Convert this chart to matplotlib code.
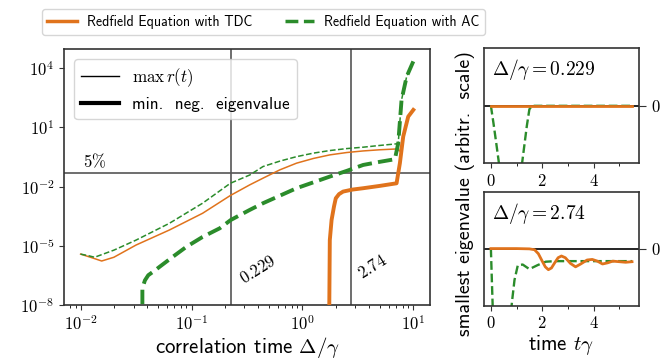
import numpy as np
import matplotlib
matplotlib.use("Agg")
import matplotlib.pyplot as plt
from matplotlib.lines import Line2D
from matplotlib.ticker import LogLocator, NullLocator, MultipleLocator, FixedLocator, FuncFormatter

plt.rcParams['font.family'] = ['cmss10', 'DejaVu Sans']
plt.rcParams['mathtext.fontset'] = 'cm'
plt.rcParams['axes.formatter.use_mathtext'] = True

ORANGE = '#e0731c'
GREEN = '#2b8c2b'

# ---- main panel data (log10 values) ----
# max r(t), TDC (thin orange)
tdc_r_logx = [-2.0, -1.90, -1.81, -1.70, -1.50, -1.20, -0.90, -0.65, -0.475, -0.355, -0.204, -0.053, 0.10, 0.247, 0.40, 0.548, 0.70, 0.849, 0.879, 0.909, 0.954, 1.0]
tdc_r_logy = [-5.42, -5.60, -5.77, -5.58, -4.96, -4.20, -3.35, -2.45, -1.91, -1.57, -1.15, -0.81, -0.57, -0.39, -0.27, -0.19, -0.13, -0.09, -0.20, 0.54, 1.55, 1.89]
# max r(t), AC (thin green dashed)
ac_r_logx = [-2.0, -1.93, -1.874, -1.70, -1.50, -1.20, -0.90, -0.65, -0.475, -0.355, -0.20, -0.053, 0.10, 0.247, 0.40, 0.548, 0.70, 0.849, 0.864, 0.894, 0.94, 1.0]
ac_r_logy = [-5.42, -5.50, -5.58, -5.22, -4.71, -3.86, -2.84, -1.83, -1.41, -0.98, -0.70, -0.48, -0.30, -0.17, -0.07, 0.0, 0.09, 0.17, 0.20, 2.40, 3.58, 4.35]
# min. neg. eigenvalue, TDC (thick orange)
tdc_e_logx = [0.241, 0.247, 0.263, 0.285, 0.301, 0.330, 0.367, 0.45, 0.548, 0.70, 0.849, 0.879, 0.909, 0.954, 1.0]
tdc_e_logy = [-9.0, -4.71, -3.69, -3.00, -2.59, -2.38, -2.25, -2.15, -2.08, -1.96, -1.83, -0.81, 0.54, 1.55, 1.89]
# min. neg. eigenvalue, AC (thick green dashed)
ac_e_logx = [-1.443, -1.443, -1.42, -1.39, -1.33, -1.287, -1.167, -1.046, -0.90, -0.745, -0.646, -0.475, -0.355, -0.20, -0.053, 0.10, 0.247, 0.40, 0.548, 0.70, 0.834, 0.864, 0.894, 0.94, 1.0]
ac_e_logy = [-9.0, -7.15, -6.75, -6.49, -6.25, -6.06, -5.55, -5.05, -4.55, -4.11, -3.69, -3.18, -2.84, -2.45, -2.08, -1.78, -1.49, -1.20, -0.90, -0.74, -0.61, 0.20, 2.40, 3.58, 4.35]

vlines = [0.229, 2.74]
vline_labels = ['$0.229$', '$2.74$']
threshold = 0.05

# ---- right panels (arbitrary scale) ----
t_top_ac = [0.0, 0.1, 0.2, 0.3, 0.4, 0.75, 1.1, 1.2, 1.3, 1.4, 1.5, 1.6, 5.5]
y_top_ac = [0.0, -0.30, -0.62, -0.95, -1.3, -3.0, -1.4, -1.05, -0.70, -0.35, -0.06, 0.0, 0.0]
t_top_tdc = [0.0, 1.0, 2.0, 3.0, 4.0, 5.5]
y_top_tdc = [0.0, 0.0, 0.0, 0.0, 0.0, 0.0]

t_bot_ac = [0.0, 0.03, 0.09, 0.2, 0.5, 0.75, 0.82, 0.92, 1.05, 1.24, 1.5, 1.82, 2.14, 2.5, 3.0, 4.0, 5.0, 5.5]
y_bot_ac = [0.0, -0.45, -1.3, -2.0, -2.0, -1.3, -0.94, -0.55, -0.29, -0.28, -0.36, -0.29, -0.23, -0.22, -0.22, -0.22, -0.22, -0.22]
t_bot_tdc = [0.0, 1.0, 1.5, 1.7, 1.85, 2.0, 2.12, 2.24, 2.36, 2.5, 2.62, 2.75, 2.9, 3.1, 3.3, 3.5, 3.75, 3.95, 4.15, 4.35, 4.55, 4.75, 5.0, 5.25, 5.5]
y_bot_tdc = [0.0, 0.0, -0.005, -0.02, -0.09, -0.22, -0.32, -0.37, -0.34, -0.24, -0.16, -0.13, -0.16, -0.26, -0.32, -0.27, -0.20, -0.19, -0.22, -0.27, -0.25, -0.22, -0.23, -0.24, -0.23]

fig = plt.figure(figsize=(6.72, 3.6), dpi=100)
ax = fig.add_axes([0.0952, 0.1528, 0.5446, 0.7112])
ax_t = fig.add_axes([0.720, 0.546, 0.231, 0.320])
ax_b = fig.add_axes([0.720, 0.151, 0.231, 0.317])

log_fmt = FuncFormatter(lambda v, p: r'$10^{%d}$' % int(round(np.log10(v))))
lin_fmt = FuncFormatter(lambda v, p: r'$%d$' % int(round(v)))

spine_c = '#333333'
for a in (ax, ax_t, ax_b):
    for s in a.spines.values():
        s.set_color(spine_c)
        s.set_linewidth(1.2)
    a.tick_params(colors=spine_c, labelcolor='black', labelsize=12)

# main panel
ax.set_xscale('log')
ax.set_yscale('log')
ax.plot(10**np.array(tdc_r_logx), 10**np.array(tdc_r_logy), color=ORANGE, lw=1.1, zorder=3)
ax.plot(10**np.array(ac_r_logx), 10**np.array(ac_r_logy), color=GREEN, lw=1.1, ls='--', zorder=3)
ax.plot(10**np.array(tdc_e_logx), 10**np.array(tdc_e_logy), color=ORANGE, lw=2.8, zorder=4)
ax.plot(10**np.array(ac_e_logx), 10**np.array(ac_e_logy), color=GREEN, lw=2.8, ls='--', zorder=4)
for v in vlines:
    ax.axvline(v, color='#555555', lw=1.2, zorder=1)
ax.axhline(threshold, color='#555555', lw=1.2, zorder=1)
ax.set_xlim(10**-2.15, 10**1.15)
ax.set_ylim(1e-8, 10**4.98)
ax.yaxis.set_major_locator(FixedLocator([1e-8, 1e-5, 1e-2, 1e1, 1e4]))
ax.yaxis.set_minor_locator(NullLocator())
ax.xaxis.set_major_locator(LogLocator(base=10))
ax.xaxis.set_minor_locator(LogLocator(base=10, subs=np.arange(2, 10)))
ax.xaxis.set_major_formatter(log_fmt)
ax.yaxis.set_major_formatter(log_fmt)
xl = ax.set_xlabel(r'correlation time $\Delta/\gamma$', fontsize=14, labelpad=1)

ax.text(0.0105, threshold * 1.35, r'$5\%$', fontsize=12, ha='left', va='bottom')
ax.text(0.395, 10**-6.2, vline_labels[0], fontsize=12, rotation=32, ha='center', va='center')
ax.text(4.23, 10**-6.05, vline_labels[1], fontsize=12, rotation=32, ha='center', va='center')

h1 = Line2D([], [], color='black', lw=1.0)
h2 = Line2D([], [], color='black', lw=3.0)


def inner_legend(fs):
    return ax.legend([h1, h2], [r'$\max\,r(t)$', 'min.  neg.  eigenvalue'], loc='upper left',
                     fontsize=fs, borderaxespad=0.6, handlelength=2.2)


# right panels
for a, tac, yac, ttd, ytd, lab in ((ax_t, t_top_ac, y_top_ac, t_top_tdc, y_top_tdc, r'$\Delta/\gamma = 0.229$'),
                                   (ax_b, t_bot_ac, y_bot_ac, t_bot_tdc, y_bot_tdc, r'$\Delta/\gamma = 2.74$')):
    a.axhline(0, color='black', lw=1.2, zorder=1)
    a.plot(tac, yac, color=GREEN, lw=1.7, ls='--', zorder=2)
    a.plot(ttd, ytd, color=ORANGE, lw=2.0, zorder=3)
    a.set_ylim(-1, 1)
    a.set_xlim(-0.275, 5.775)
    a.yaxis.tick_right()
    a.set_yticks([0])
    a.xaxis.set_major_locator(MultipleLocator(2))
    a.xaxis.set_minor_locator(MultipleLocator(1))
    a.xaxis.set_major_formatter(lin_fmt)
    a.yaxis.set_major_formatter(lin_fmt)
    a.tick_params(axis='y', length=5)
    a.text(0.05, 0.92, lab, transform=a.transAxes, fontsize=14, ha='left', va='top')
ax_b.set_xlabel(r'time $t\gamma$', fontsize=14, labelpad=1)

yl = fig.text(0.692, 0.461, 'smallest eigenvalue (arbitr.  scale)', rotation=90, fontsize=14,
              ha='center', va='center')

lh1 = Line2D([], [], color=ORANGE, lw=2.5)
lh2 = Line2D([], [], color=GREEN, lw=2.5, ls='--')


def top_legend(fs, cs):
    return fig.legend([lh1, lh2], ['Redfield Equation with TDC', 'Redfield Equation with AC'], loc='center',
                      bbox_to_anchor=(0.392, 0.939), ncol=2, fontsize=fs, columnspacing=cs,
                      handlelength=2.15, handletextpad=0.7, borderpad=0.4)


# --- fit text sizes to the pixel widths measured on the reference ---
leg_in = inner_legend(12)
leg_top = top_legend(12, 2.0)
fig.canvas.draw()
r = fig.canvas.get_renderer()


def fitted(fs, width, target, lo, hi):
    if width <= 0:
        return fs
    return float(np.clip(fs * target / width, lo, hi))


fs_top = fitted(12, leg_top.get_texts()[0].get_window_extent(r).width, 166, 9, 13)
fs_in = fitted(12, leg_in.get_texts()[1].get_window_extent(r).width, 157, 9, 13)
xl.set_fontsize(fitted(14, xl.get_window_extent(r).width, 185, 11, 15))
yl.set_fontsize(fitted(14, yl.get_window_extent(r).height, 284, 11, 15))
ax_b.xaxis.label.set_fontsize(xl.get_fontsize())

leg_in.remove()
leg_top.remove()
leg_in = inner_legend(fs_in)
leg_top = top_legend(fs_top, 2.0)
fig.canvas.draw()
W = leg_top.get_window_extent(r).width
cs = float(np.clip(2.0 + (443 - W) / (fs_top * 100 / 72), 0.8, 3.5))
leg_top.remove()
leg_top = top_legend(fs_top, cs)

fig.savefig('out.png', dpi=100)
